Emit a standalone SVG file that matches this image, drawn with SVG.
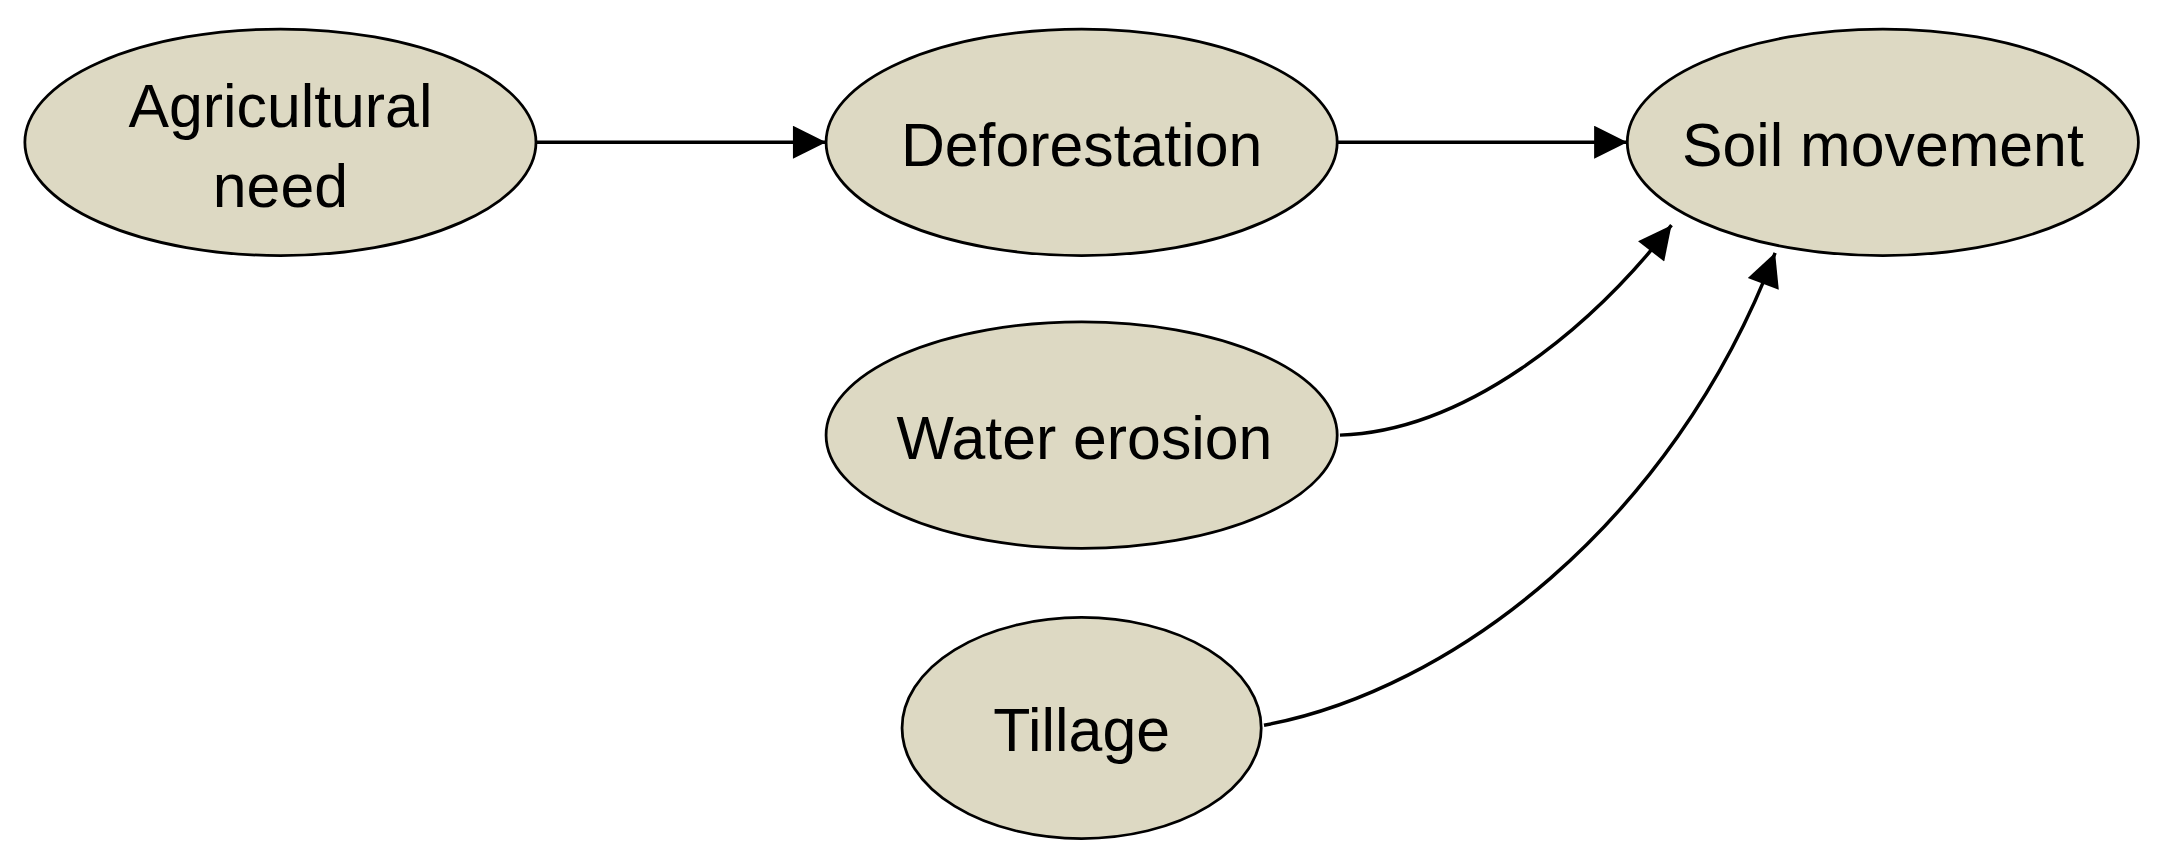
<svg xmlns="http://www.w3.org/2000/svg" width="2166" height="861" viewBox="0 0 2166 861">
<style>
.n{fill:#ddd9c3;stroke:#000;stroke-width:2}
.t{font-family:"Liberation Sans",Arial,sans-serif;font-size:44px;text-anchor:middle;fill:#000}
.c{fill:none;stroke:#000;stroke-width:2.5}
</style>
<defs><marker id="a" viewBox="0 0 10 10" refX="10" refY="5" markerWidth="11" markerHeight="10" markerUnits="userSpaceOnUse" orient="auto"><path d="M0,0L10,5L0,10z"/></marker>
<marker id="b" viewBox="0 0 10 10" refX="10" refY="5" markerWidth="28" markerHeight="24" markerUnits="userSpaceOnUse" orient="auto"><path d="M0,0L10,5L0,10z"/></marker></defs>
<rect width="2166" height="861" fill="#fff"/>
<g transform="scale(1.3814)">
<g id="connectors">
<path class="c" d="M388,103H598" marker-end="url(#b)"/>
<path class="c" d="M968,103H1178" marker-end="url(#b)"/>
<path class="c" d="M970,315C1060,312 1150,240 1210,163" marker-end="url(#b)"/>
<path class="c" d="M915,525C1050,500 1210,380 1285,183" marker-end="url(#b)"/>
</g>
<g id="agri"><ellipse class="n" cx="203" cy="103" rx="185" ry="82"/><text class="t" x="203" y="92">Agricultural</text><text class="t" x="203" y="150">need</text></g>
<g id="defor"><ellipse class="n" cx="783" cy="103" rx="185" ry="82"/><text class="t" x="783" y="120">Deforestation</text></g>
<g id="soil"><ellipse class="n" cx="1363" cy="103" rx="185" ry="82"/><text class="t" x="1363" y="120">Soil movement</text></g>
<g id="water"><ellipse class="n" cx="783" cy="315" rx="185" ry="82"/><text class="t" x="785" y="332">Water erosion</text></g>
<g id="tillage"><ellipse class="n" cx="783" cy="527" rx="130" ry="80"/><text class="t" x="783" y="544">Tillage</text></g>
</g>
</svg>
